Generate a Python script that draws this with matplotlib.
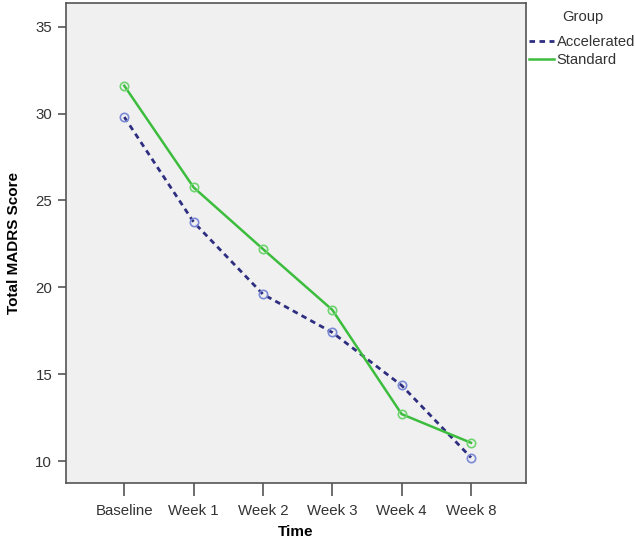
import matplotlib
matplotlib.use('Agg')
import matplotlib.pyplot as plt

plt.rcParams['font.family'] = ['Liberation Sans', 'DejaVu Sans']

times = ['Baseline', 'Week 1', 'Week 2', 'Week 3', 'Week 4', 'Week 8']
accelerated = [29.8, 23.75, 19.6, 17.4, 14.35, 10.2]
standard = [31.6, 25.75, 22.2, 18.7, 12.7, 11.05]

fig = plt.figure(figsize=(6.35, 5.42), dpi=100)
ax = fig.add_axes([0.104, 0.109, 0.724, 0.886])
ax.set_facecolor('#f0f0f0')

x = range(len(times))
ax.plot(x, accelerated, color='#2e2e80', lw=2, linestyle=(0, (2, 1.6)),
        marker='o', markersize=6, markerfacecolor='none',
        markeredgecolor='#7b8ad6', markeredgewidth=1.2, label='Accelerated')
ax.plot(x, standard, color='#3dbd3d', lw=1.8,
        marker='o', markersize=6, markerfacecolor='none',
        markeredgecolor='#6fd46f', markeredgewidth=1.2, label='Standard')

ax.set_xlim(-0.84, 5.79)
ax.set_ylim(8.74, 36.38)
ax.set_xticks(list(x))
ax.set_xticklabels(times)
ax.set_yticks([10, 15, 20, 25, 30, 35])

for s in ax.spines.values():
    s.set_color('#555555')
    s.set_linewidth(1.2)
ax.tick_params(axis='x', length=9, width=1.2, color='#555555', labelsize=10.8,
               labelcolor='#333333', pad=6)
ax.tick_params(axis='y', length=6, width=1.2, color='#555555', labelsize=10.8,
               labelcolor='#333333', pad=4)

ax.set_xlabel('Time', fontsize=11, fontweight='bold', labelpad=5)
ax.set_ylabel('Total MADRS Score', fontsize=11, fontweight='bold', labelpad=10)

# legend outside on the right, title as separate text
leg = ax.legend(loc='center left', bbox_to_anchor=(1.0, 0.9),
                frameon=False, fontsize=10.6,
                handlelength=1.7, handletextpad=0.15, labelspacing=0.28,
                borderaxespad=0.05, borderpad=0.2)
for h in leg.legend_handles:
    h.set_marker('')
for t in leg.get_texts():
    t.set_color('#333333')
fig.text(0.918, 0.9686, 'Group', fontsize=10.6, color='#333333',
         ha='center', va='center')

fig.savefig('out.png', dpi=100)
